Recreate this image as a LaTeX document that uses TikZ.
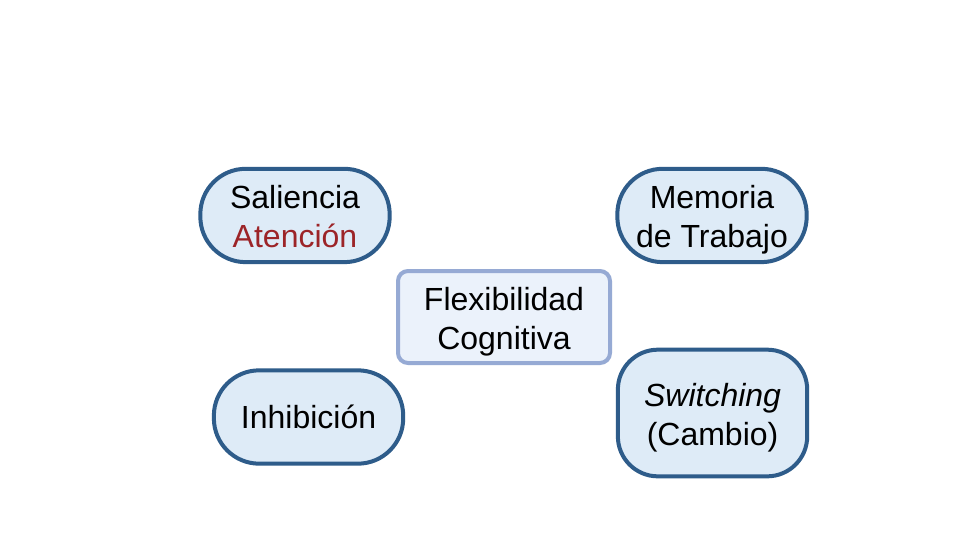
\documentclass[tikz,border=0pt]{standalone}
\usepackage{fontspec}
\setmainfont{Liberation Sans}
\definecolor{darkb}{HTML}{2E5C8A}
\definecolor{lightfill}{HTML}{DEEBF7}
\definecolor{cborder}{HTML}{96AAD4}
\definecolor{cfill}{HTML}{EBF2FB}
\definecolor{redtxt}{HTML}{9C2428}
\begin{document}
\begin{tikzpicture}[x=1pt,y=1pt,
  pill/.style={draw=darkb, fill=lightfill, line width=3pt, rounded corners=34pt,
    minimum width=142pt, minimum height=70pt, align=center, inner sep=0pt,
    font=\fontsize{24}{29}\selectfont},
  twoline/.style={text height=48pt, text depth=0pt},
  center/.style={draw=cborder, fill=cfill, line width=3pt, rounded corners=7.5pt,
    minimum width=159pt, minimum height=69pt, align=center, inner sep=0pt,
    font=\fontsize{24}{29}\selectfont}]
\useasboundingbox[fill=white] (0,0) rectangle (720,-405);
\node[pill, twoline] (sal) at (221.25,-161.6) {Saliencia\\\textcolor{redtxt}{Atención}};
\node[pill, twoline] (mem) at (534,-161.6) {Memoria\\de Trabajo};
\node[center, twoline] (flex) at (378,-237.75) {Flexibilidad\\Cognitiva};
\node[pill] (inh) at (231.4,-312.75) {Inhibición};
\node[pill, twoline, rounded corners=30pt, minimum height=95pt] (sw) at (534.4,-309.75) {\textit{Switching}\\(Cambio)};
\end{tikzpicture}
\end{document}
